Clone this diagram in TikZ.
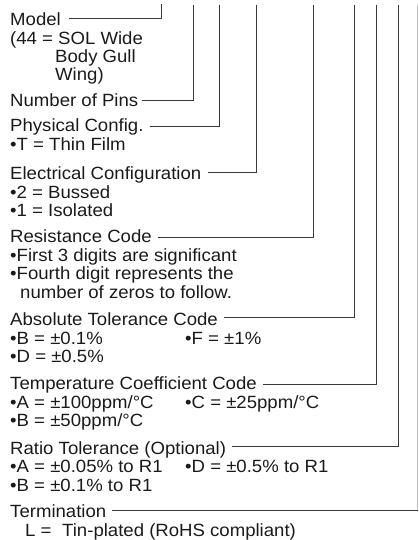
\documentclass[tikz,border=0pt]{standalone}
\usepackage{fontspec}
\setmainfont{Liberation Sans}[FakeStretch=1.05]
\definecolor{txt}{HTML}{1A1A1A}
\definecolor{ln}{HTML}{3A3A3A}
\begin{document}
\begin{tikzpicture}[x=1pt,y=-1pt,
  lbl/.style={anchor=base west, inner sep=0pt, text height=12.5pt, text depth=3.5pt,
              font=\fontsize{17.7}{18.5}\selectfont, text=txt},
  leader/.style={draw=ln, line width=0.8pt},
  faint/.style={draw=black!25, line width=0.8pt}]
\useasboundingbox (0,0) rectangle (418,540);

% Model
\node[lbl] (model)  at (10,26)   {Model};
\node[lbl] (model1) at (10,44.5) {(44 = SOL Wide};
\node[lbl] (model2) at (55,63)   {Body Gull};
\node[lbl] (model3) at (55,81)   {Wing)};
% Number of pins
\node[lbl] (pins) at (10,106.5) {Number of Pins};
% Physical config
\node[lbl] (phys)  at (10,132)   {Physical Config.};
\node[lbl] (phys1) at (10,150.5) {•T = Thin Film};
% Electrical configuration
\node[lbl] (elec)  at (10,179.5) {Electrical Configuration};
\node[lbl] (elec1) at (10,198)   {•2 = Bussed};
\node[lbl] (elec2) at (10,216.5) {•1 = Isolated};
% Resistance code
\node[lbl] (res)  at (10,242.5) {Resistance Code};
\node[lbl] (res1) at (10,261)   {•First 3 digits are significant};
\node[lbl] (res2) at (10,279.5) {•Fourth digit represents the};
\node[lbl] (res3) at (20,298)   {number of zeros to follow.};
% Absolute tolerance
\node[lbl] (abs)  at (10,325.5) {Absolute Tolerance Code};
\node[lbl] (abs1) at (10,344)   {•B = ±0.1\%};
\node[lbl] (abs2) at (185,344)  {•F = ±1\%};
\node[lbl] (abs3) at (10,362.5) {•D = ±0.5\%};
% Temperature coefficient
\node[lbl] (tcr)  at (10,389.5) {Temperature Coefficient Code};
\node[lbl] (tcr1) at (10,408)   {•A = ±100ppm/°C};
\node[lbl] (tcr2) at (185,408)  {•C = ±25ppm/°C};
\node[lbl] (tcr3) at (10,426.5) {•B = ±50ppm/°C};
% Ratio tolerance
\node[lbl] (rat)  at (10,454)   {Ratio Tolerance (Optional)};
\node[lbl] (rat1) at (10,472.5) {•A = ±0.05\% to R1};
\node[lbl] (rat2) at (185,472.5){•D = ±0.5\% to R1};
\node[lbl] (rat3) at (10,491)   {•B = ±0.1\% to R1};
% Termination
\node[lbl] (term)  at (10,517.5) {Termination};
\node[lbl] (term1) at (25,536)   {L =\hspace{0.6em}Tin-plated (RoHS compliant)};

% leader tops
\coordinate (tModel) at (161,4);
\coordinate (tPins)  at (193,5);
\coordinate (tPhys)  at (219,5);
\coordinate (tElec)  at (256.7,5);
\coordinate (tRes)   at (313.7,5);
\coordinate (tAbs)   at (354,5);
\coordinate (tTcr)   at (376.3,5);
\coordinate (tRat)   at (398,5);
\coordinate (tTerm)  at (417.5,5);
\coordinate (cTerm)  at (417.5,510);
\coordinate (eTerm)  at (418,510);

\draw[leader] ([shift={(8,-7.7)}]model.base east) -| (tModel);
\draw[leader] ([shift={(4,-6.5)}]pins.base east) -| (tPins);
\draw[leader] ([shift={(6,-5.3)}]phys.base east) -| (tPhys);
\draw[leader] ([shift={(6,-6.8)}]elec.base east) -| (tElec);
\draw[leader] ([shift={(6,-5.2)}]res.base east) -| (tRes);
\draw[leader] ([shift={(6,-7.8)}]abs.base east) -| (tAbs);
\draw[leader] ([shift={(6,-5.2)}]tcr.base east) -| (tTcr);
\draw[leader] ([shift={(6,-7.3)}]rat.base east) -| (tRat);
\draw[faint] (tTerm) -- (cTerm);
\draw[leader] ([shift={(6,-7.5)}]term.base east) -- (eTerm);
\end{tikzpicture}
\end{document}
